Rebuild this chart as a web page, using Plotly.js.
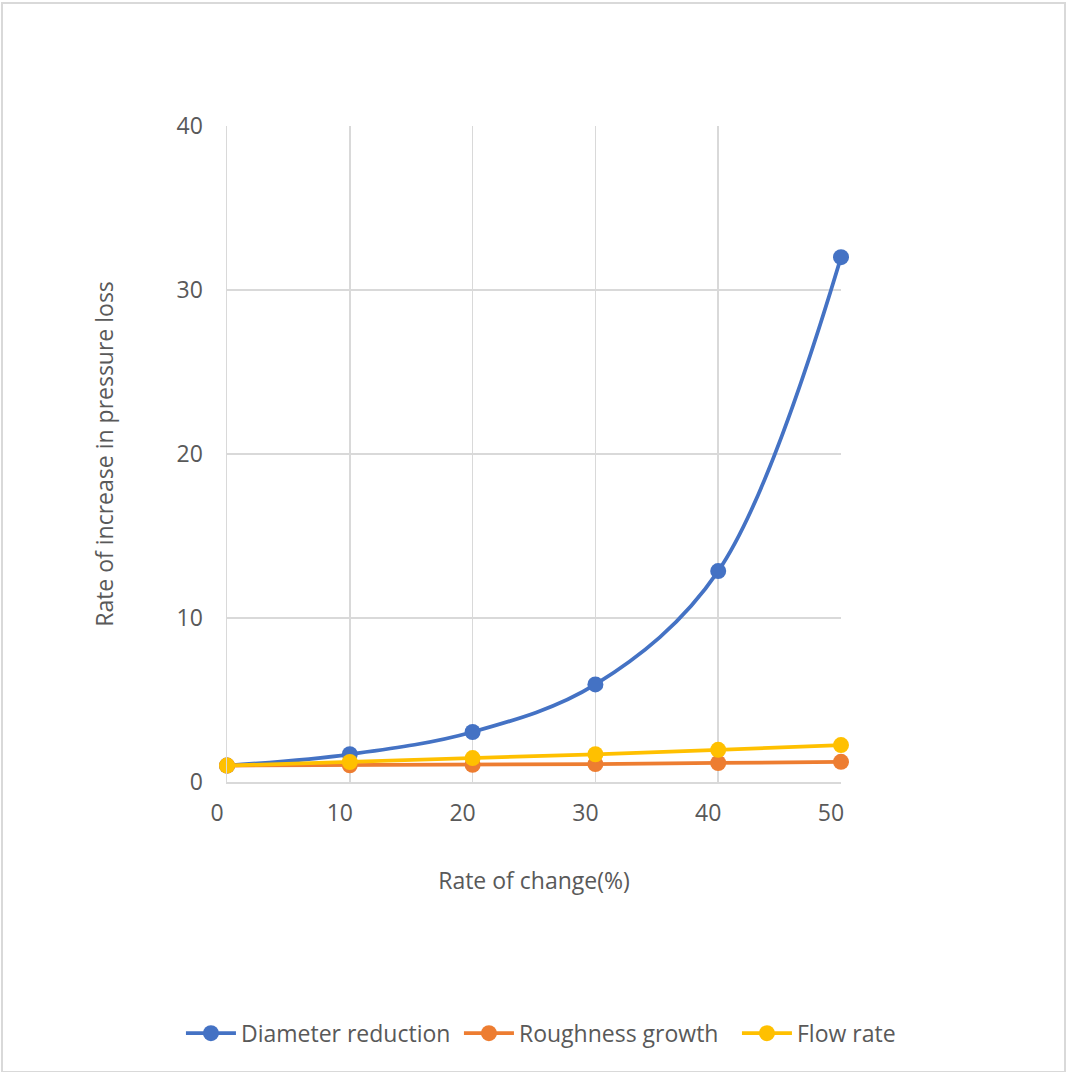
<!DOCTYPE html>
<html>
<head>
<meta charset="utf-8">
<script src="https://cdn.plot.ly/plotly-3.0.1.min.js"></script>
<style>
  html, body { margin: 0; padding: 0; background: #ffffff; }
  #wrap { position: relative; width: 1066px; height: 1072px; }
  #chart { position: absolute; left: 0; top: 0; width: 1066px; height: 1072px; }
  #frame { position: absolute; left: 1px; top: 2px; width: 1061px; height: 1067px;
           border: 2px solid #d9d9d9; pointer-events: none; }
</style>
</head>
<body>
<div id="wrap">
  <div id="chart"></div>
  <div id="frame"></div>
</div>
<script>
// Data
const rateOfChange = [0, 10, 20, 30, 40, 50];
const diameterReduction = [1, 1.69, 3.05, 5.95, 12.86, 32];
const roughnessGrowth = [1, 1.02, 1.05, 1.09, 1.16, 1.23];
const flowRate = [1, 1.22, 1.46, 1.69, 1.96, 2.25];

const seriesNames = ['Diameter reduction', 'Roughness growth', 'Flow rate'];
const seriesColors = ['#4472C4', '#ED7D31', '#FFC000'];
const yTicks = [0, 10, 20, 30, 40];
const xTicks = [0, 10, 20, 30, 40, 50];

const FONT = '"Open Sans", "Noto Sans", "Liberation Sans", sans-serif';
const GREY = '#595959';
const FS = 23;

function mk(y, i, smooth) {
  return {
    x: rateOfChange, y: y, name: seriesNames[i],
    type: 'scatter', mode: 'lines+markers',
    line: { color: seriesColors[i], width: 3.75, shape: smooth ? 'spline' : 'linear' },
    marker: { color: seriesColors[i], size: 16 },
    cliponaxis: false
  };
}

const data = [
  mk(diameterReduction, 0, true),
  mk(roughnessGrowth, 1, false),
  mk(flowRate, 2, false)
];

const layout = {
  width: 1066, height: 1072,
  paper_bgcolor: '#ffffff', plot_bgcolor: '#ffffff',
  margin: { l: 227, r: 225, t: 126, b: 290 },
  font: { family: FONT, color: GREY, size: FS },
  showlegend: true,
  legend: {
    orientation: 'h',
    x: -0.075, xanchor: 'left', y: -0.383, yanchor: 'middle',
    font: { family: FONT, size: FS, color: GREY },
    tracegroupgap: 0, itemwidth: 50, entrywidth: 213, entrywidthmode: 'pixels'
  },
  xaxis: {
    range: [0, 50], tickvals: xTicks, ticktext: xTicks.map(String),
    showgrid: true, gridcolor: '#d9d9d9', gridwidth: 1.5,
    showline: true, linecolor: '#d9d9d9', linewidth: 1.5, mirror: false,
    zeroline: false, ticks: '', ticklabelstandoff: 10, ticklabelshift: -10,
    tickfont: { family: FONT, size: FS, color: GREY },
    title: { text: 'Rate of change(%)', font: { family: FONT, size: FS, color: GREY }, standoff: 46 }
  },
  yaxis: {
    range: [0, 40], tickvals: yTicks, ticktext: yTicks.map(String),
    showgrid: true, gridcolor: '#d9d9d9', gridwidth: 1.5,
    showline: true, linecolor: '#d9d9d9', linewidth: 1.5,
    zeroline: false, ticks: '', ticklabelstandoff: 18,
    tickfont: { family: FONT, size: FS, color: GREY },
    title: { text: 'Rate of increase in pressure loss', font: { family: FONT, size: FS, color: GREY }, standoff: 56 }
  }
};

Plotly.newPlot('chart', data, layout, { displayModeBar: false, staticPlot: true });
</script>
</body>
</html>
